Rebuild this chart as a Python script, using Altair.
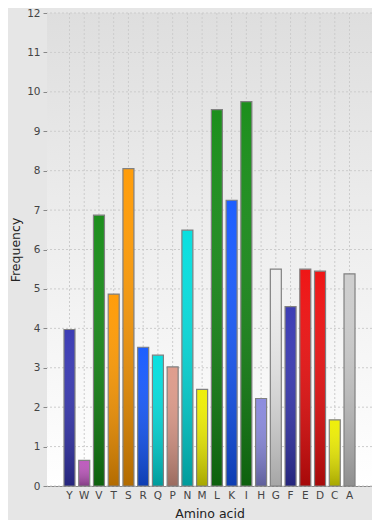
import altair as alt
import pandas as pd

amino_acids = ["Y", "W", "V", "T", "S", "R", "Q", "P", "N", "M",
               "L", "K", "I", "H", "G", "F", "E", "D", "C", "A"]
frequency = [3.97, 0.65, 6.87, 4.87, 8.05, 3.52, 3.32, 3.02, 6.49, 2.45,
             9.55, 7.25, 9.75, 2.22, 5.50, 4.55, 5.50, 5.45, 1.68, 5.38]
bar_colors = ["#3535b2", "#bb55bb", "#138a13", "#ff9900", "#ff9900",
              "#1458ff", "#00dede", "#dd9988", "#00dede", "#eeee00",
              "#138a13", "#1458ff", "#138a13", "#8888dd", "#ededed",
              "#3535b2", "#ee0c0c", "#ee0c0c", "#eeee00", "#cccccc"]
y_ticks = list(range(0, 13))

df = pd.DataFrame({"aa": amino_acids, "freq": frequency})
tick_df = pd.DataFrame({"freq": y_ticks})

FONT = "DejaVu Sans"
W, H = 325, 473

x_enc = alt.X(
    "aa:N", sort=amino_acids,
    scale=alt.Scale(paddingInner=0.254, paddingOuter=1, range=[2.25, 322.75]),
    axis=alt.Axis(title="Amino acid", labelAngle=0, ticks=False, grid=False,
                  domainColor="#888888", labelFont=FONT, labelFontSize=10.5,
                  labelColor="#444444", labelPadding=4, titleFont=FONT,
                  titleFontSize=12.5, titleFontWeight="normal", titleColor="#222222",
                  titlePadding=7),
)
y_enc = alt.Y(
    "freq:Q",
    scale=alt.Scale(domain=[0, 12], nice=False),
    axis=alt.Axis(title="Frequency", values=y_ticks, grid=False,
                  domainColor="#888888", tickColor="#888888",
                  tickSize=4, labelFont=FONT, labelFontSize=10.5, labelColor="#444444",
                  labelPadding=3, titleFont=FONT, titleFontSize=12.5,
                  titleFontWeight="normal", titleColor="#222222", titlePadding=4),
)

plot_bg = alt.Chart(alt.Data(values=[{}])).mark_rect(
    fill={"gradient": "linear", "x1": 0, "y1": 0, "x2": 0, "y2": 1,
          "stops": [{"offset": 0, "color": "#dedede"}, {"offset": 1, "color": "#ffffff"}]},
).encode(x=alt.value(0), x2=alt.value(W), y=alt.value(0), y2=alt.value(H))

hgrid = alt.Chart(tick_df).mark_rule(
    color="#cccccc", strokeDash=[2, 2], strokeWidth=1
).encode(y=y_enc)

vgrid = alt.Chart(df).mark_rule(
    color="#cccccc", strokeDash=[2, 2], strokeWidth=1
).encode(x=x_enc)

base = alt.Chart(df).mark_bar(strokeWidth=0).encode(
    x=x_enc,
    y=y_enc,
    fill=alt.Fill("aa:N", scale=alt.Scale(domain=amino_acids, range=bar_colors), legend=None),
)

shade = alt.Chart(df).mark_bar(
    fill={"gradient": "linear", "x1": 0, "y1": 0, "x2": 0, "y2": 1,
          "stops": [{"offset": 0, "color": "rgba(255,255,255,0.04)"},
                    {"offset": 1, "color": "rgba(0,0,0,0.30)"}]},
    stroke="#808080", strokeWidth=1.2,
).encode(x=x_enc, y=y_enc)

chart = alt.layer(plot_bg, hgrid, vgrid, base, shade).properties(
    width=W, height=H,
    padding={"left": 39, "top": 5, "right": 0, "bottom": 34},
    autosize=alt.AutoSizeParams(type="none"),
    background="#e6e6e6",
).configure_view(
    stroke="#8a8a8a", strokeWidth=1,
)

chart.save("out.html", embed_options={"renderer": "svg", "actions": False})
